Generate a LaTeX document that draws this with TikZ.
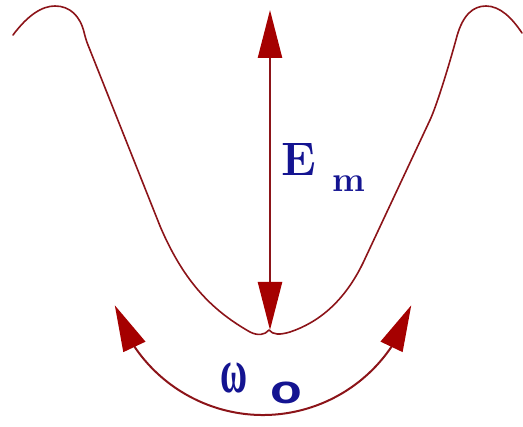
\documentclass[tikz,border=0pt]{standalone}
\usepackage{fontspec}
\usetikzlibrary{arrows.meta,bending}
\newfontfamily\greekserif{Liberation Serif}
\newfontfamily\plainsans{Liberation Sans}
\definecolor{curvered}{RGB}{140,20,25}
\definecolor{tipred}{RGB}{165,0,0}
\definecolor{labelblue}{RGB}{20,20,145}
\begin{document}
\begin{tikzpicture}[x=1pt,y=-1pt,
  well/.style={draw=curvered, line width=1.6pt, line join=round, line cap=round},
  bigtip/.style={{Triangle[length=48pt,width=24pt,color=tipred]}-{Triangle[length=48pt,width=24pt,color=tipred]}},
  vline/.style={draw=curvered, line width=2.4pt, bigtip},
  arcline/.style={draw=curvered, line width=2pt, {Triangle[length=46pt,width=24pt,color=tipred]}-{Triangle[length=46pt,width=24pt,color=tipred]}},
  lbl/.style={text=labelblue, inner sep=0pt}]
\useasboundingbox (0,0) rectangle (523,427);
% potential well
\coordinate (cusp) at (269,330);
\draw[well] (13,35) .. controls (28,15) and (42,6) .. (55,6)
  .. controls (70,6) and (80,16) .. (84,32)
  .. controls (85,36) and (86,40) .. (88,45) -- (160,226)
  .. controls (185,285) and (215,312) .. (250,332)
  .. controls (258,336) and (265,335) .. (cusp)
  .. controls (273,335) and (280,335) .. (290,332)
  .. controls (320,322) and (345,300) .. (363,263) -- (430,120)
  .. controls (437,105) and (450,62) .. (457,36)
  .. controls (463,15) and (473,6) .. (486,6)
  .. controls (500,6) and (512,18) .. (522,33);
% Em arrow
\coordinate (Emtop) at (270,10);
\coordinate (Embot) at (270,330);
\draw[vline] (Emtop) -- (Embot);
\node[lbl, anchor=base west, font=\fontsize{47}{47}\selectfont\bfseries] (E) at (281,176) {E};
\node[lbl, anchor=base west, font=\fontsize{35}{35}\selectfont\bfseries] (m) at (332,192) {m};
% omega arc
\coordinate (wL) at (114.8,305.3);
\draw[arcline] (wL) arc[start angle=163, end angle=17, radius=155];
\node[lbl, font=\fontsize{37}{37}\selectfont\greekserif\bfseries] (w) at (234.5,378.5) {\scalebox{1}[1.7]{ω}};
\node[lbl, font=\fontsize{40}{40}\selectfont\plainsans\bfseries] (o) at (286,393) {\scalebox{1.3}[1]{o}};
\end{tikzpicture}
\end{document}
